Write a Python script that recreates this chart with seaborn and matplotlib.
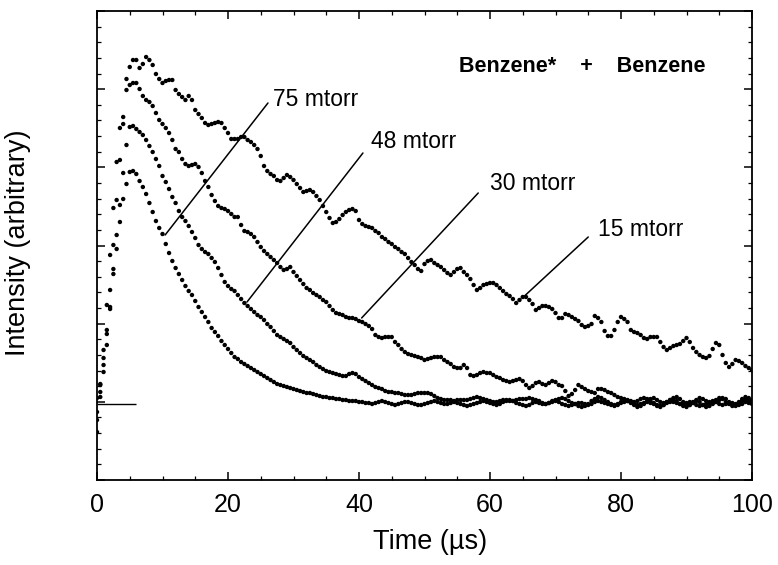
import numpy as np
import pandas as pd
import matplotlib
matplotlib.use('Agg')
import matplotlib.pyplot as plt
import seaborn as sns

# time axis: one sample every 0.5 us, 0..100 us
time_us = np.arange(0, 100.5, 0.5)

# intensity above baseline (arbitrary units), 10 values = 5 us
i_15 = [
    -1.6, 1.9, 5.4, 9.9, 14.9, 19.6, 24.2, 27.6, 28.7, 32.5,
    33.7, 34.4, 34.4, 33.6, 34.0, 34.7, 34.4, 33.9, 33.0, 32.5,
    32.1, 32.3, 32.4, 32.4, 31.4, 31.0, 30.7, 30.4, 30.8, 30.4,
    29.4, 29.0, 28.6, 28.1, 27.9, 28.0, 28.1, 28.2, 28.1, 27.6,
    27.1, 26.5, 26.5, 26.5, 26.7, 26.7, 26.4, 26.2, 25.9, 25.5,
    24.8, 23.8, 23.3, 23.0, 22.8, 22.4, 22.3, 22.6, 22.9, 22.7,
    22.4, 22.0, 21.6, 21.2, 21.3, 21.4, 21.2, 20.8, 20.4, 19.8,
    19.2, 18.6, 18.1, 18.2, 18.5, 18.9, 19.2, 19.4, 19.5, 19.3,
    18.4, 18.0, 17.8, 17.7, 17.6, 17.3, 17.1, 16.7, 16.5, 16.2,
    16.0, 15.7, 15.5, 15.2, 15.0, 14.6, 14.2, 13.9, 13.5, 13.3,
    14.0, 14.3, 14.4, 14.1, 13.9, 13.7, 13.4, 13.1, 12.9, 13.2,
    13.5, 13.6, 13.2, 12.9, 12.5, 11.9, 11.4, 11.6, 11.9, 12.0,
    12.1, 12.1, 11.9, 11.6, 11.3, 11.0, 10.8, 10.5, 10.1, 10.4,
    10.7, 10.7, 10.4, 10.0, 9.4, 9.6, 9.8, 9.8, 9.7, 9.5,
    9.1, 8.6, 8.6, 9.0, 8.9, 8.7, 8.5, 8.3, 7.9, 7.7,
    7.8, 8.0, 8.8, 8.6, 8.2, 7.3, 6.8, 6.8, 7.4, 8.2,
    8.7, 8.5, 8.2, 7.4, 7.2, 7.1, 6.9, 6.6, 6.5, 6.7,
    6.7, 6.7, 6.2, 5.7, 5.4, 5.6, 5.8, 5.9, 6.0, 6.3,
    6.6, 6.2, 5.6, 5.2, 4.9, 4.7, 4.6, 4.8, 5.5, 6.1,
    5.9, 4.9, 4.1, 3.7, 4.0, 4.4, 4.3, 4.1, 3.8, 3.6,
    3.4,
]

i_30 = [
    -2.8, 1.2, 3.9, 7.4, 11.4, 15.9, 20.4, 24.4, 28.0, 31.4,
    31.9, 32.1, 32.1, 31.5, 30.8, 30.4, 30.2, 29.8, 29.1, 28.4,
    28.0, 27.6, 27.1, 26.4, 25.5, 25.2, 24.5, 24.0, 23.8, 23.9,
    24.0, 23.7, 23.1, 22.3, 21.7, 20.9, 20.3, 19.8, 19.6, 19.5,
    19.3, 19.0, 18.7, 18.7, 17.9, 17.3, 17.2, 17.0, 16.7, 16.2,
    15.7, 15.3, 15.0, 14.7, 14.4, 14.1, 13.7, 13.4, 13.5, 13.7,
    13.2, 12.8, 12.4, 12.0, 11.6, 11.4, 11.1, 10.9, 10.7, 10.4,
    10.2, 9.8, 9.4, 9.1, 9.0, 8.9, 8.7, 8.6, 8.6, 8.5,
    8.3, 8.2, 8.0, 7.8, 7.5, 6.9, 6.7, 6.6, 6.7, 6.7,
    6.7, 6.2, 5.9, 5.5, 5.2, 5.0, 4.9, 4.8, 4.7, 4.6,
    4.4, 4.5, 4.6, 4.7, 4.7, 4.7, 4.4, 4.2, 4.0, 3.7,
    3.6, 3.6, 3.9, 3.6, 2.9, 2.8, 2.9, 3.1, 3.2, 3.1,
    3.1, 2.9, 2.7, 2.6, 2.4, 2.3, 2.2, 2.3, 2.4, 2.5,
    2.3, 1.9, 1.6, 1.8, 2.1, 2.2, 2.0, 1.9, 2.1, 2.3,
    2.2, 1.9, 1.8, 1.3, 0.8, 1.0, 1.4, 1.9, 1.7, 1.5,
    1.3, 1.2, 1.1, 1.5, 1.5, 1.4, 1.2, 1.1, 0.9, 0.7,
    0.6, 0.5, 0.4, 0.3, 0.2, 0.3, 0.5, 0.6, 0.5, 0.3,
    0.1, -0.2, -0.3, -0.1, 0.2, 0.4, 0.6, 0.7, 0.5, 0.2,
    0.0, -0.1, 0.1, 0.3, 0.2, -0.1, -0.3, -0.2, 0.1, 0.4,
    0.6, 0.5, 0.2, 0.0, -0.2, -0.1, 0.2, 0.5, 0.7, 0.6,
    0.4,
]

i_48 = [
    -0.8, 0.7, 3.2, 5.9, 9.5, 13.5, 16.9, 19.9, 23.1, 25.9,
    27.7, 27.8, 27.5, 27.2, 26.9, 26.4, 25.8, 25.2, 24.5, 23.8,
    22.8, 22.2, 21.5, 20.7, 20.1, 19.3, 18.7, 18.3, 17.8, 17.2,
    16.6, 15.9, 15.5, 15.2, 15.0, 14.6, 14.2, 13.6, 12.9, 12.2,
    11.8, 11.5, 11.3, 10.9, 10.5, 10.1, 9.8, 9.5, 9.2, 8.9,
    8.7, 8.4, 8.0, 7.7, 7.3, 6.9, 6.7, 6.5, 6.3, 6.1,
    5.7, 5.4, 5.1, 4.8, 4.6, 4.4, 4.2, 3.9, 3.7, 3.5,
    3.3, 3.2, 3.1, 3.0, 2.9, 2.8, 2.8, 3.0, 3.1, 3.0,
    2.7, 2.5, 2.3, 2.1, 1.9, 1.7, 1.6, 1.5, 1.3, 1.2,
    1.2, 1.1, 1.1, 1.0, 0.9, 0.9, 0.9, 1.0, 1.1, 1.1,
    1.1, 1.1, 1.0, 0.8, 0.6, 0.5, 0.4, 0.4, 0.4, 0.3,
    0.4, 0.4, 0.4, 0.4, 0.5, 0.6, 0.7, 0.6, 0.5, 0.4,
    0.3, 0.2, 0.2, 0.3, 0.4, 0.4, 0.3, 0.3, 0.4, 0.5,
    0.5, 0.5, 0.6, 0.5, 0.4, 0.3, 0.1, 0.0, 0.1, 0.3,
    0.4, 0.5, 0.6, 0.5, 0.3, 0.1, 0.0, -0.2, -0.3, -0.2,
    0.0, 0.3, 0.5, 0.7, 0.6, 0.4, 0.2, 0.0, -0.1, 0.0,
    0.2, 0.4, 0.3, 0.1, -0.1, -0.3, -0.2, 0.0, 0.3, 0.5,
    0.6, 0.4, 0.2, 0.1, 0.2, 0.4, 0.5, 0.3, 0.0, -0.2,
    -0.3, -0.1, 0.2, 0.4, 0.6, 0.5, 0.3, 0.1, 0.0, 0.2,
    0.4, 0.6, 0.5, 0.2, -0.1, -0.2, 0.0, 0.3, 0.5, 0.4,
    0.3,
]

i_75 = [
    0.6, 2.0, 4.6, 7.0, 9.7, 13.0, 15.5, 18.2, 20.5, 22.0,
    23.2, 23.3, 23.0, 22.3, 21.7, 21.0, 20.1, 19.2, 18.3, 17.6,
    17.0, 16.0, 15.1, 14.3, 13.6, 13.0, 12.4, 11.8, 11.3, 10.9,
    10.3, 9.7, 9.2, 8.7, 8.2, 7.6, 7.2, 6.8, 6.3, 5.9,
    5.5, 5.1, 4.7, 4.5, 4.2, 4.0, 3.8, 3.6, 3.4, 3.2,
    3.0, 2.8, 2.6, 2.4, 2.2, 2.0, 1.9, 1.8, 1.7, 1.6,
    1.5, 1.4, 1.3, 1.2, 1.1, 1.1, 1.0, 0.9, 0.8, 0.7,
    0.7, 0.6, 0.6, 0.5, 0.5, 0.4, 0.4, 0.3, 0.3, 0.3,
    0.2, 0.2, 0.1, 0.1, 0.0, 0.1, 0.2, 0.3, 0.2, 0.1,
    0.0, -0.1, 0.0, 0.1, 0.2, 0.2, 0.1, 0.0, -0.1, -0.1,
    0.0, 0.1, 0.2, 0.3, 0.2, 0.1, 0.0, 0.0, 0.1, 0.2,
    0.1, 0.0, -0.1, -0.2, -0.1, 0.0, 0.1, 0.2, 0.3, 0.2,
    0.1, 0.0, -0.1, 0.0, 0.2, 0.3, 0.4, 0.3, 0.1, 0.0,
    -0.1, -0.2, -0.1, 0.1, 0.2, 0.1, 0.0, 0.0, 0.1, 0.2,
    0.3, 0.2, 0.0, -0.1, -0.2, -0.1, 0.0, 0.1, 0.1, 0.0,
    -0.1, 0.0, 0.2, 0.3, 0.2, 0.1, 0.0, -0.1, -0.2, -0.1,
    0.1, 0.2, 0.3, 0.2, 0.0, -0.1, 0.0, 0.1, 0.2, 0.1,
    0.0, -0.1, -0.2, -0.1, 0.1, 0.2, 0.2, 0.1, 0.0, 0.0,
    0.1, 0.2, 0.1, -0.1, -0.2, -0.1, 0.0, 0.2, 0.3, 0.2,
    0.0, -0.1, 0.0, 0.1, 0.1, 0.0, -0.1, 0.0, 0.2, 0.1,
    0.0,
]

pressures = ['15 mtorr', '30 mtorr', '48 mtorr', '75 mtorr']
traces = [i_15, i_30, i_48, i_75]

# label text position and leader line (from, to) in data units
label_pos = {'75 mtorr': (26.9, 30.4), '48 mtorr': (41.9, 26.2),
             '30 mtorr': (60.0, 22.0), '15 mtorr': (76.5, 17.5)}
leader = {'75 mtorr': ((26.1, 30.1), (10.4, 16.9)),
          '48 mtorr': ((40.6, 25.1), (22.9, 10.2)),
          '30 mtorr': ((58.2, 21.1), (40.4, 8.6)),
          '15 mtorr': ((75.0, 16.7), (65.1, 10.7))}

frames = []
for p, tr in zip(pressures, traces):
    n = min(len(tr), len(time_us))
    frames.append(pd.DataFrame({'time': time_us[:n], 'intensity': tr[:n], 'pressure': p}))
df = pd.concat(frames, ignore_index=True)

sns.set_style('ticks')
plt.rcParams['font.family'] = ['Liberation Sans', 'DejaVu Sans']
plt.rcParams['text.color'] = 'black'
plt.rcParams['axes.labelcolor'] = 'black'

fig = plt.figure(figsize=(7.78, 5.65), dpi=100)
ax = fig.add_axes([97 / 778, 1 - 480 / 565, 655 / 778, 469 / 565])

sns.scatterplot(data=df, x='time', y='intensity', hue='pressure',
                palette=['black'] * 4, s=10, linewidth=0, legend=False, ax=ax)

# short baseline marker at the left
ax.hlines(0, 0, 6, color='black', linewidth=1)

for p in pressures:
    (x0, y0), (x1, y1) = leader[p]
    ax.plot([x0, x1], [y0, y1], color='black', linewidth=1.1)
    ax.text(label_pos[p][0], label_pos[p][1], p, fontsize=16.5, ha='left', va='center',
            color='black')

ax.text(74.1, 33.8, 'Benzene*    +    Benzene', fontsize=15.5, fontweight='bold',
        ha='center', va='center', color='black')

ylo, yhi = -7.6, 39.3
ax.set_xlim(0, 100)
ax.set_ylim(ylo, yhi)
ax.set_xticks(np.arange(0, 101, 20))
ax.set_xticks(np.arange(0, 101, 5), minor=True)
ax.set_yticks(np.linspace(ylo, yhi, 7))
ax.set_yticks(np.linspace(ylo, yhi, 31), minor=True)
ax.set_yticklabels([])
ax.tick_params(which='both', direction='in', top=True, right=True,
               colors='black', labelcolor='black')
ax.tick_params(which='major', length=6, width=1.1, labelsize=18, pad=9)
ax.tick_params(which='minor', length=3, width=0.9)
for s in ax.spines.values():
    s.set_linewidth(1.3)
    s.set_color('black')

ax.set_xlabel('Time (µs)', fontsize=19.5, color='black')
ax.set_ylabel('Intensity (arbitrary)', fontsize=19.5, color='black')
ax.xaxis.set_label_coords(0.508, -0.105)
ax.yaxis.set_label_coords(-0.101, 0.505)

fig.savefig('out.png', dpi=100)
